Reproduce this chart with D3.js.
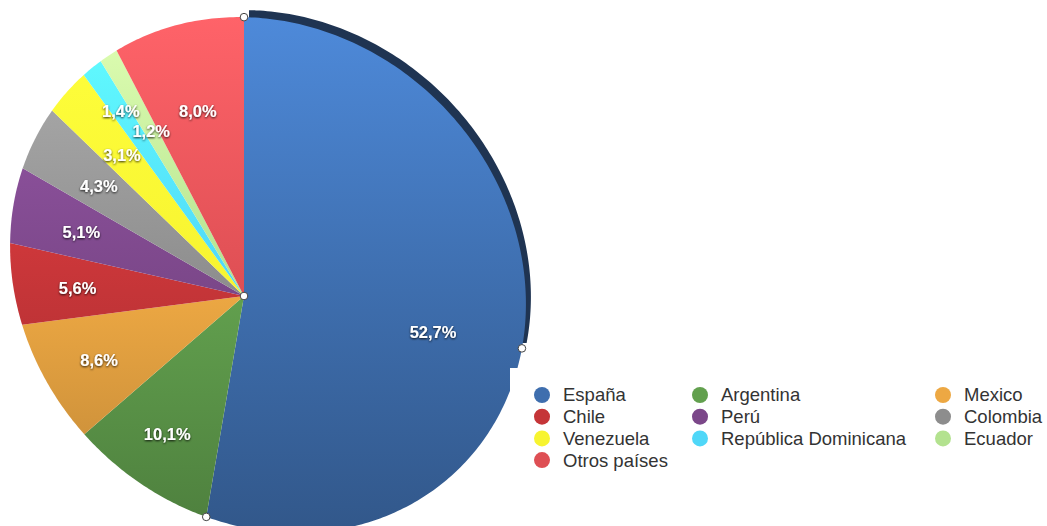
<!DOCTYPE html>
<html>
<head>
<meta charset="utf-8">
<script src="https://cdn.jsdelivr.net/npm/d3@7"></script>
<style>
  html, body { margin: 0; padding: 0; background: #fff; }
  svg { display: block; }
</style>
</head>
<body>
<div id="chart"></div>
<script>
(function () {
  const countries = ["España", "Argentina", "Mexico", "Chile", "Perú", "Colombia", "Venezuela", "República Dominicana", "Ecuador", "Otros países"];
  const shares = [52.7, 10.1, 8.6, 5.6, 5.1, 4.3, 3.1, 1.4, 1.2, 8.0];
  const colors = ["#3e6eae", "#62a04e", "#eda843", "#c53538", "#7b4789", "#8d8d8d", "#f7f430", "#4fd7f8", "#b3e28f", "#de4f54"];

  const width = 1047;
  const height = 526;

  // the pie is drawn tilted: slices meet at an off-centre apex, the rim is an ellipse
  const apex = [244, 296];
  const rim = { cx: 268, cy: 275, a: 272, b: 243, rot: Math.PI / 4 };
  const tilt = 0.105;

  function direction(theta) {
    const x = Math.sin(theta);
    const y = -Math.cos(theta) + tilt * Math.sin(theta);
    const n = Math.hypot(x, y);
    return [x / n, y / n];
  }

  function rimPoint(theta) {
    const [ux, uy] = direction(theta);
    const c = Math.cos(rim.rot);
    const s = Math.sin(rim.rot);
    const px = apex[0] - rim.cx;
    const py = apex[1] - rim.cy;
    const qx = px * c + py * s;
    const qy = -px * s + py * c;
    const vx = ux * c + uy * s;
    const vy = -ux * s + uy * c;
    const a2 = rim.a * rim.a;
    const b2 = rim.b * rim.b;
    const A = vx * vx / a2 + vy * vy / b2;
    const B = 2 * (qx * vx / a2 + qy * vy / b2);
    const C = qx * qx / a2 + qy * qy / b2 - 1;
    const t = (-B + Math.sqrt(B * B - 4 * A * C)) / (2 * A);
    return { x: apex[0] + ux * t, y: apex[1] + uy * t, ux, uy, t };
  }

  const line = d3.line().x((p) => p.x).y((p) => p.y);

  function slicePath(slice) {
    const steps = Math.max(2, Math.ceil((slice.endAngle - slice.startAngle) / (Math.PI / 240)));
    const points = [{ x: apex[0], y: apex[1] }].concat(
      d3.range(steps + 1).map((i) => rimPoint(slice.startAngle + (slice.endAngle - slice.startAngle) * i / steps))
    );
    return line(points) + "Z";
  }

  function scaleColor(hex, k) {
    const c = d3.rgb(hex);
    return d3.rgb(Math.min(255, c.r * k), Math.min(255, c.g * k), Math.min(255, c.b * k)).formatHex();
  }

  const slices = d3.pie().sort(null).value((d) => d)(shares);

  const svg = d3.select("#chart")
    .append("svg")
    .attr("width", width)
    .attr("height", height)
    .attr("viewBox", `0 0 ${width} ${height}`);

  const defs = svg.append("defs");

  colors.forEach((color, i) => {
    const grad = defs.append("linearGradient")
      .attr("id", `slice-grad-${i}`)
      .attr("gradientUnits", "userSpaceOnUse")
      .attr("x1", 0).attr("y1", 15)
      .attr("x2", 0).attr("y2", 526);
    grad.append("stop").attr("offset", "0%").attr("stop-color", scaleColor(color, 1.25));
    grad.append("stop").attr("offset", "54%").attr("stop-color", color);
    grad.append("stop").attr("offset", "100%").attr("stop-color", scaleColor(color, 0.8));
  });

  const shadow = defs.append("filter")
    .attr("id", "label-shadow")
    .attr("x", "-20%").attr("y", "-40%")
    .attr("width", "140%").attr("height", "180%");
  shadow.append("feDropShadow")
    .attr("dx", 0).attr("dy", 1)
    .attr("stdDeviation", 1.1)
    .attr("flood-color", "#000")
    .attr("flood-opacity", 0.85);

  defs.append("clipPath")
    .attr("id", "side-clip")
    .append("rect")
    .attr("x", 0).attr("y", 0)
    .attr("width", width).attr("height", 350);

  // dark side of the big slice
  svg.append("path")
    .attr("d", slicePath(slices[0]))
    .attr("transform", "translate(5,-7)")
    .attr("clip-path", "url(#side-clip)")
    .attr("fill", "#1f3452");

  svg.append("g")
    .selectAll("path")
    .data(slices)
    .join("path")
    .attr("d", slicePath)
    .attr("fill", (d, i) => `url(#slice-grad-${i})`);

  const labelLayer = svg.append("g")
    .attr("font-family", "'Liberation Sans', Arial, Helvetica, sans-serif")
    .attr("font-weight", "bold")
    .attr("font-size", 16.5)
    .attr("fill", "#fff")
    .attr("filter", "url(#label-shadow)");

  slices.forEach((slice, i) => {
    const mid = (slice.startAngle + slice.endAngle) / 2;
    const p = rimPoint(mid);
    const small = shares[i] < 2;
    const nextSmall = i + 1 < shares.length && shares[i + 1] < 2;
    const dist = p.t * 0.5 + 51 + (small && nextSmall ? 34 : 0);
    labelLayer.append("text")
      .attr("x", apex[0] + p.ux * dist)
      .attr("y", apex[1] + p.uy * dist)
      .attr("text-anchor", "middle")
      .attr("dy", "0.36em")
      .text(shares[i].toFixed(1).replace(".", ",") + "%");
  });

  // selection handles of the big slice
  const big = slices[0];
  const handles = [
    { x: apex[0], y: apex[1] },
    rimPoint(big.startAngle),
    rimPoint(big.endAngle),
    rimPoint((big.startAngle + big.endAngle) / 2)
  ];
  svg.append("g")
    .selectAll("circle")
    .data(handles)
    .join("circle")
    .attr("cx", (d) => d.x)
    .attr("cy", (d) => d.y)
    .attr("r", 3.8)
    .attr("fill", "#fff")
    .attr("stroke", "#444")
    .attr("stroke-width", 1);

  // legend, on a white panel that covers the pie's corner
  svg.append("rect")
    .attr("x", 510)
    .attr("y", 368)
    .attr("width", width - 510)
    .attr("height", height - 368)
    .attr("fill", "#fff");

  const colX = [542, 700, 943];
  const legend = svg.append("g")
    .attr("font-family", "'Liberation Sans', Arial, Helvetica, sans-serif")
    .attr("font-size", 18.5);

  const items = legend.selectAll("g")
    .data(countries)
    .join("g")
    .attr("transform", (d, i) => `translate(${colX[i % 3]}, ${395 + Math.floor(i / 3) * 21.7})`);

  items.append("circle")
    .attr("r", 8)
    .attr("fill", (d, i) => colors[i]);

  items.append("text")
    .attr("x", 21)
    .attr("dy", "0.35em")
    .attr("fill", "#333")
    .text((d) => d);
}());
</script>
</body>
</html>
